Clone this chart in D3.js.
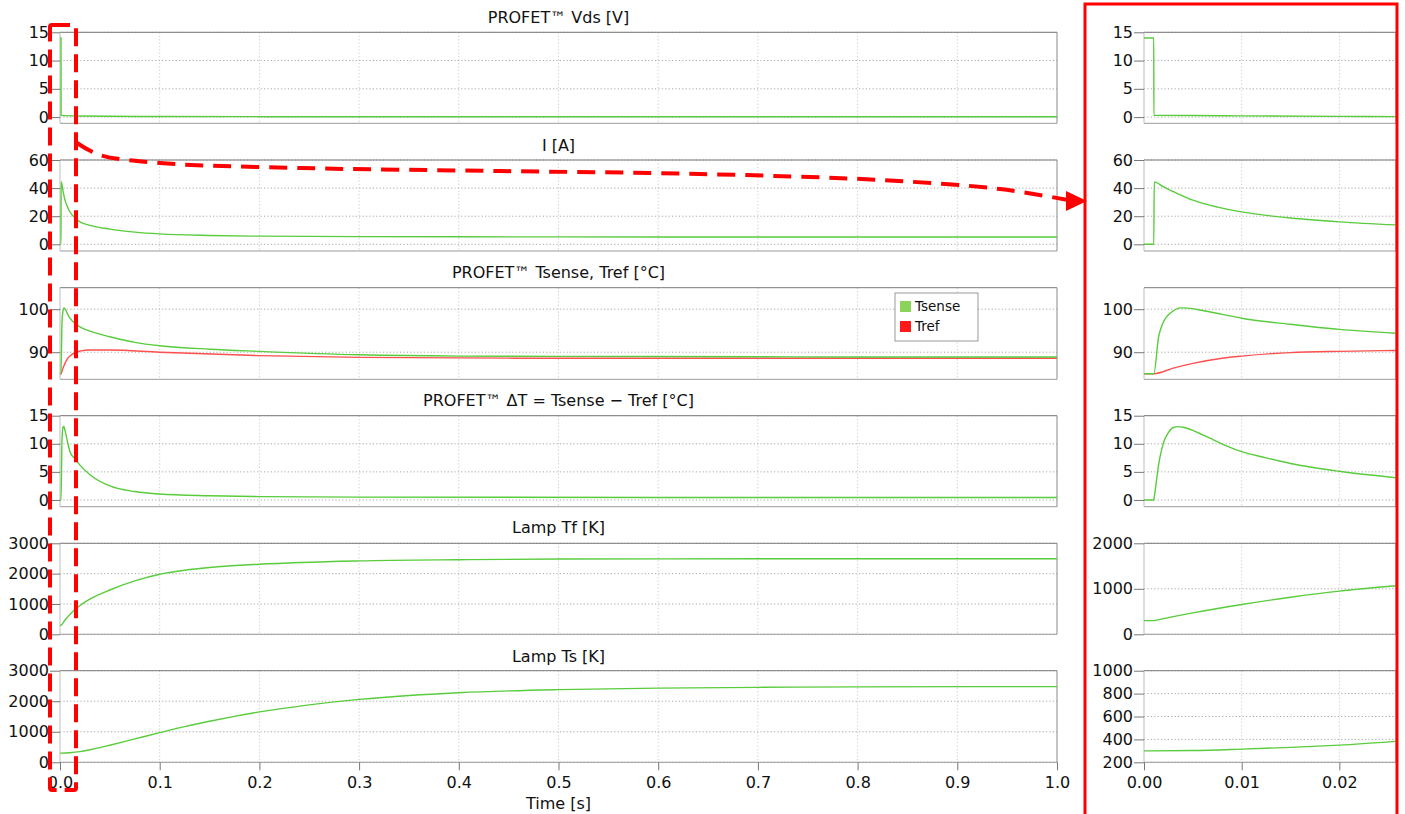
<!DOCTYPE html>
<html><head><meta charset="utf-8">
<script src="https://cdn.jsdelivr.net/npm/d3@7"></script>
<style>
html,body{margin:0;padding:0;background:#fff;}
svg{display:block;font-family:"DejaVu Sans",Verdana,sans-serif;}
</style></head>
<body>
<svg id="chart" width="1405" height="814"></svg>
<script>
// ---------- data (time in s) ----------
const panelTitles = ["PROFET™ Vds [V]", "I [A]", "PROFET™ Tsense, Tref [°C]",
  "PROFET™ ΔT = Tsense − Tref [°C]", "Lamp Tf [K]", "Lamp Ts [K]"];
const xTicksMain = [0,0.1,0.2,0.3,0.4,0.5,0.6,0.7,0.8,0.9,1.0];
const xTicksZoom = [0,0.01,0.02];
const xLabel = "Time [s]";
const legendNames = ["Tsense", "Tref"];

const yTicksVds = [0,5,10,15];
const yTicksI = [0,20,40,60];
const yTicksT = [90,100];
const yTicksDT = [0,5,10,15];
const yTicksTfMain = [0,1000,2000,3000];
const yTicksTfZoom = [0,1000,2000];
const yTicksTsMain = [0,1000,2000,3000];
const yTicksTsZoom = [200,400,600,800,1000];

// full run 0..1 s
const vdsMain = [[0,14],[0.001,14],[0.0011,0.3],[0.02,0.2],[0.1,0.1],[0.3,0.06],[1,0.05]];
const iMain = [[0,0],[0.001,0],[0.0011,44.5],[0.003,38],[0.005,31.5],[0.0075,26.5],[0.01,23],[0.015,18.8],[0.02,16],[0.03,13.5],[0.05,10.8],[0.075,8.7],[0.1,7.4],[0.15,6.3],[0.2,5.8],[0.3,5.5],[0.5,5.3],[0.7,5.2],[1.0,5.2]];
const tsenseMain = [[0,85],[0.001,85],[0.002,97],[0.003,99.6],[0.004,100.3],[0.0055,99.9],[0.0075,98.9],[0.01,97.9],[0.015,96.7],[0.02,95.9],[0.03,94.9],[0.05,93.6],[0.075,92.3],[0.1,91.5],[0.15,90.7],[0.2,90.2],[0.3,89.4],[0.4,89.1],[0.6,89.0],[0.8,88.9],[1,88.9]];
const trefMain = [[0,85],[0.001,85],[0.003,86.3],[0.005,87.4],[0.0075,88.5],[0.01,89.1],[0.015,89.9],[0.02,90.25],[0.03,90.5],[0.05,90.5],[0.1,90.0],[0.2,89.2],[0.3,88.8],[0.5,88.6],[1,88.6]];
const dTMain = [[0,0],[0.001,0],[0.002,10.5],[0.003,13],[0.0035,13.1],[0.004,13.0],[0.005,12.4],[0.007,10.8],[0.01,8.6],[0.015,7.3],[0.02,6.2],[0.03,4.5],[0.05,2.5],[0.075,1.5],[0.1,1.05],[0.15,0.75],[0.2,0.6],[0.3,0.5],[0.6,0.45],[1,0.45]];
const tfMain = [[0,300],[0.001,300],[0.005,470],[0.01,655],[0.015,815],[0.02,950],[0.03,1160],[0.05,1460],[0.075,1760],[0.1,1980],[0.125,2110],[0.15,2200],[0.2,2310],[0.3,2420],[0.4,2460],[0.5,2480],[0.7,2490],[1,2490]];
const tsMain = [[0,300],[0.01,315],[0.02,350],[0.03,410],[0.04,480],[0.05,560],[0.075,765],[0.1,970],[0.125,1170],[0.15,1345],[0.175,1505],[0.2,1650],[0.25,1880],[0.3,2060],[0.35,2190],[0.4,2280],[0.5,2380],[0.6,2430],[0.7,2455],[0.8,2470],[1,2480]];

// zoom 0..0.026 s
const vdsZoom = [[0,14],[0.001,14],[0.00101,0.3],[0.005,0.28],[0.01,0.22],[0.02,0.12],[0.0258,0.08]];
const iZoom = [[0,0],[0.001,0],[0.00105,44.4],[0.002,40.8],[0.003,37.5],[0.005,31.4],[0.0075,26.5],[0.01,23.1],[0.0125,20.6],[0.015,18.7],[0.02,16.0],[0.0258,13.8]];
const tsenseZoom = [[0,85],[0.001,85],[0.0015,93.6],[0.002,97.1],[0.0025,98.7],[0.003,99.6],[0.0037,100.3],[0.0045,100.25],[0.006,99.7],[0.008,98.8],[0.01,97.9],[0.015,96.5],[0.02,95.3],[0.0258,94.4]];
const trefZoom = [[0,85],[0.001,85],[0.003,86.3],[0.005,87.4],[0.008,88.6],[0.01,89.1],[0.015,89.9],[0.02,90.2],[0.0258,90.4]];
const dTZoom = [[0,0],[0.001,0],[0.00105,0.5],[0.0015,6.3],[0.002,10.2],[0.0025,12.0],[0.003,12.9],[0.0035,13.05],[0.004,12.95],[0.005,12.4],[0.006,11.6],[0.007,10.8],[0.0085,9.6],[0.01,8.6],[0.0125,7.5],[0.015,6.5],[0.02,5.1],[0.0258,3.95]];
const tfZoom = [[0,300],[0.001,300],[0.0014,318],[0.005,470],[0.01,655],[0.015,815],[0.02,950],[0.0258,1068]];
const tsZoom = [[0,300],[0.005,303],[0.01,315],[0.015,330],[0.02,350],[0.0258,383]];

// ---------- layout ----------
const GREEN = "#58cc3c", RED = "#ff5050";
const mainX = {x0:60, x1:1057, domain:[0,1]};
const zoomX = {x0:1144, x1:1396, domain:[0,0.0258]};
const rows = [
  {top:32.3, bottom:123.3, titleY:23},
  {top:160, bottom:251, titleY:151},
  {top:287.7, bottom:379.3, titleY:278},
  {top:415.7, bottom:506.7, titleY:406},
  {top:543.3, bottom:634.3, titleY:533},
  {top:670.7, bottom:762.3, titleY:662}
];
const mainPanels = [
  {dom:[-1.1,15], ticks:yTicksVds, series:[[vdsMain,GREEN]]},
  {dom:[-4.75,60], ticks:yTicksI, series:[[iMain,GREEN]]},
  {dom:[83.7,105], ticks:yTicksT, series:[[trefMain,RED],[tsenseMain,GREEN]]},
  {dom:[-1.2,15], ticks:yTicksDT, series:[[dTMain,GREEN]]},
  {dom:[0,3000], ticks:yTicksTfMain, series:[[tfMain,GREEN]]},
  {dom:[0,3000], ticks:yTicksTsMain, series:[[tsMain,GREEN]]}
];
const zoomPanels = [
  {dom:[-1.1,15], ticks:yTicksVds, series:[[vdsZoom,GREEN]]},
  {dom:[-4.75,60], ticks:yTicksI, series:[[iZoom,GREEN]]},
  {dom:[83.7,105], ticks:yTicksT, series:[[trefZoom,RED],[tsenseZoom,GREEN]]},
  {dom:[-1.2,15], ticks:yTicksDT, series:[[dTZoom,GREEN]]},
  {dom:[0,2000], ticks:yTicksTfZoom, series:[[tfZoom,GREEN]]},
  {dom:[200,1000], ticks:yTicksTsZoom, series:[[tsZoom,GREEN]]}
];

const svg = d3.select("#chart");
const defs = svg.append("defs");
let clipId = 0;

function drawPanel(px, row, p, xTicks, xFmt, isLast, title) {
  const x = d3.scaleLinear().domain(px.domain).range([px.x0, px.x1]);
  const y = d3.scaleLinear().domain(p.dom).range([row.bottom, row.top]);
  const g = svg.append("g");
  // grid
  g.selectAll(".vg").data(xTicks.filter(t => t > px.domain[0] && t < px.domain[1])).join("line")
    .attr("x1", d => x(d)).attr("x2", d => x(d)).attr("y1", row.top).attr("y2", row.bottom)
    .attr("stroke", "#cccccc").attr("stroke-dasharray", "1.2,2.2").attr("stroke-width", 1);
  g.selectAll(".hg").data(p.ticks).join("line")
    .attr("x1", px.x0).attr("x2", px.x1).attr("y1", d => y(d)).attr("y2", d => y(d))
    .attr("stroke", "#a8a8a8").attr("stroke-dasharray", "1.2,2.2").attr("stroke-width", 1);
  // frame
  g.append("line").attr("x1", px.x0).attr("x2", px.x1).attr("y1", row.top).attr("y2", row.top).attr("stroke", "#7a7a7a");
  g.append("line").attr("x1", px.x0).attr("x2", px.x1).attr("y1", row.bottom).attr("y2", row.bottom).attr("stroke", "#9a9a9a");
  g.append("line").attr("x1", px.x1).attr("x2", px.x1).attr("y1", row.top).attr("y2", row.bottom).attr("stroke", "#8a8a8a");
  g.append("line").attr("x1", px.x0).attr("x2", px.x0).attr("y1", row.top).attr("y2", row.bottom).attr("stroke", "#bdbdbd");
  // y axis
  const ya = d3.axisLeft(y).tickValues(p.ticks).tickSize(10).tickPadding(1).tickFormat(d3.format("d"));
  const yg = g.append("g").attr("transform", `translate(${px.x0},0)`).call(ya);
  yg.select(".domain").remove();
  yg.selectAll(".tick line").attr("stroke", "#777");
  yg.selectAll(".tick text").attr("font-size", 16).attr("fill", "#111")
    .attr("font-family", "DejaVu Sans, Verdana, sans-serif");
  // lines
  const id = "clip" + (clipId++);
  defs.append("clipPath").attr("id", id).append("rect")
    .attr("x", px.x0).attr("y", row.top).attr("width", px.x1 - px.x0).attr("height", row.bottom - row.top);
  const line = d3.line().x(d => x(d[0])).y(d => y(d[1])).curve(d3.curveMonotoneX);
  p.series.forEach(([data, col]) => {
    g.append("path").datum(data).attr("d", line).attr("fill", "none")
      .attr("stroke", col).attr("stroke-width", 1.4).attr("clip-path", `url(#${id})`);
  });
  if (title) {
    g.append("text").attr("x", (px.x0 + px.x1) / 2).attr("y", row.titleY)
      .attr("text-anchor", "middle").attr("font-size", 16).attr("fill", "#111").text(title);
  }
  if (isLast) {
    const xa = d3.axisBottom(x).tickValues(xTicks).tickSize(8).tickPadding(6).tickFormat(xFmt);
    const xg = g.append("g").attr("transform", `translate(0,${row.bottom})`).call(xa);
    xg.select(".domain").remove();
    xg.selectAll(".tick line").attr("stroke", "#777");
    xg.selectAll(".tick text").attr("font-size", 16).attr("fill", "#111")
      .attr("font-family", "DejaVu Sans, Verdana, sans-serif");
  }
  return {x, y};
}

rows.forEach((row, i) => {
  drawPanel(mainX, row, mainPanels[i], xTicksMain, d3.format(".1f"), i === rows.length - 1, panelTitles[i]);
  drawPanel(zoomX, row, zoomPanels[i], xTicksZoom, d3.format(".2f"), i === rows.length - 1, null);
});

svg.append("text").attr("x", (mainX.x0 + mainX.x1) / 2).attr("y", 809)
  .attr("text-anchor", "middle").attr("font-size", 16).attr("fill", "#111").text(xLabel);

// legend
const lg = svg.append("g").attr("transform", "translate(895,293)");
lg.append("rect").attr("width", 83).attr("height", 48).attr("fill", "#fff").attr("stroke", "#999");
[["#8bd35a", legendNames[0]], ["#ff1a1a", legendNames[1]]].forEach(([c, n], k) => {
  lg.append("rect").attr("x", 5).attr("y", 8 + k * 20).attr("width", 11).attr("height", 11).attr("fill", c);
  lg.append("text").attr("x", 20).attr("y", 18 + k * 20).attr("font-size", 13.5).attr("fill", "#111").text(n);
});

// annotations
const ann = svg.append("g");
ann.append("rect").attr("x", 50).attr("y", 25).attr("width", 26).attr("height", 765).attr("rx", 2)
  .attr("fill", "none").attr("stroke", "#ff0000").attr("stroke-width", 4).attr("stroke-dasharray", "18,8");
const arrowPts = [[77,143],[100,155],[160,163],[300,168],[500,171],[700,174],[880,180],[1000,189],[1068,200]];
ann.append("path").attr("d", d3.line().curve(d3.curveCatmullRom)(arrowPts))
  .attr("fill", "none").attr("stroke", "#ff0000").attr("stroke-width", 4).attr("stroke-dasharray", "18,10");
ann.append("path").attr("d", "M1066,191 L1087,201 L1066,211 Z").attr("fill", "#ff0000");
ann.append("rect").attr("x", 1085).attr("y", 4).attr("width", 312).attr("height", 820)
  .attr("fill", "none").attr("stroke", "#ff0000").attr("stroke-width", 3);
</script>
</body></html>
